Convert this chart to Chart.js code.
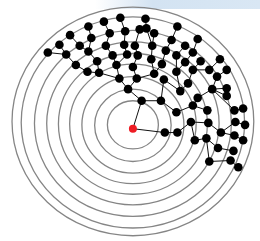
<!DOCTYPE html>
<html>
<head>
<meta charset="utf-8">
<script src="https://cdn.jsdelivr.net/npm/chart.js@4.4.1/dist/chart.umd.min.js"></script>
<style>
  html, body { margin: 0; padding: 0; background: #fff; }
  #wrap { position: relative; width: 260px; height: 241px; overflow: hidden; }
  #band { position: absolute; left: 95px; top: 0; width: 165px; height: 9px;
          background: linear-gradient(to right, rgba(205,222,240,0), #d3e3f2 35%, #d9e7f4); }
  canvas { position: absolute; left: 0; top: 0; }
</style>
</head>
<body>
<div id="wrap">
  <div id="band"></div>
  <canvas id="tree" width="260" height="241"></canvas>
</div>
<script>
// rings (radius, upward shift of the ring centre)
const ringRadius = [25, 37.5, 50, 62, 73, 84.5, 96.5, 109.5, 118.5];
const ringLift = [4, 3.5, 4, 5, 5, 5.5, 5.5, 6.5, 7.5];

// tree nodes, root first
const nodeX = [0, 9, 33, -5, 29, 46, 45, -14, 4, 32, 60, 22, -35, -17, 0, 49, 62, 64,
    -47, -37, -21, -6, 5, 19, 30, 45, 57, 67, 77, 78, 76,
    -59, -46, -28, -9, 2, 20, 34, 45, 54, 62, 82, 91, 88, 79,
    -69, -55, -43, -24, -8, 7, 14, 22, 40, 54, 62, 70, 79, 87, 97, 97, 105, 106, 105, 104, 101,
    -88, -76, -65, -46, -30, -13, 13, 46, 67, 90, 97, 114, 116, 114, 109];
const nodeY = [0, 29, -4, 41, 29, -4, 17, 52, 52, 51, 7, 57, 58, 66, 64, 39, 24, -12,
    59, 70, 76, 77, 76, 72, 67, 59, 47, 32, 19, 6, -10,
    66, 80, 86, 87, 86, 86, 81, 76, 69, 61, 41, -4, -20, -34,
    77, 86, 94, 99, 101, 103, 104, 99, 92, 86, 79, 70, 61, 54, 42, 34, 19, 7, -7, -23, -33,
    79, 87, 97, 106, 111, 115, 114, 106, 93, 72, 61, 21, 4, -12, -40];
const nodeParent = [-1, 0, 0, 1, 1, 2, 4, 3, 3, 4, 5, 8, 7, 7, 8, 9, 6, 10,
    12, 12, 13, 13, 14, 11, 11, 15, 15, 16, 16, 10, 17,
    18, 19, 20, 21, 22, 23, 24, 25, 25, 26, 27, 29, 30, 30,
    31, 32, 32, 33, 34, 35, 36, 36, 37, 38, 39, 40, 40, 41, 41, 41, 41, 42, 42, 43, 44,
    45, 45, 46, 47, 48, 49, 51, 53, 55, 57, 58, 61, 62, 63, 65];

const RING_ASPECT = 1.055;

const edgePoints = [];
for (let i = 1; i < nodeX.length; i++) {
    const p = nodeParent[i];
    edgePoints.push({x: nodeX[p], y: nodeY[p]});
    edgePoints.push({x: nodeX[i], y: nodeY[i]});
    edgePoints.push({x: null, y: null});
}
const nodePoints = nodeX.slice(1).map((x, i) => ({x: x, y: nodeY[i + 1]}));

// draw the rings through the scales, under the tree
const ringPlugin = {
    id: 'rings',
    beforeDatasetsDraw(chart) {
        const {ctx, scales: {x, y}} = chart;
        ctx.save();
        ctx.strokeStyle = '#858585';
        ctx.lineWidth = 1.3;
        ringRadius.forEach((r, i) => {
            const cx = x.getPixelForValue(0);
            const cy = y.getPixelForValue(ringLift[i]);
            const rx = x.getPixelForValue(r * RING_ASPECT) - cx;
            const ry = cy - y.getPixelForValue(ringLift[i] + r);
            ctx.beginPath();
            ctx.ellipse(cx, cy, rx, ry, 0, 0, Math.PI * 2);
            ctx.stroke();
        });
        ctx.restore();
    }
};

new Chart(document.getElementById('tree'), {
    type: 'scatter',
    data: {
        datasets: [
            {
                data: edgePoints,
                showLine: true,
                spanGaps: false,
                borderColor: '#111',
                borderWidth: 1,
                pointRadius: 0,
                order: 3
            },
            {
                data: nodePoints,
                pointRadius: 4.3,
                pointBackgroundColor: '#000',
                pointBorderWidth: 0,
                order: 2
            },
            {
                data: [{x: nodeX[0], y: nodeY[0]}],
                pointRadius: 4,
                pointBackgroundColor: '#ee1c24',
                pointBorderWidth: 0,
                order: 1
            }
        ]
    },
    options: {
        responsive: false,
        animation: false,
        devicePixelRatio: 1,
        layout: {padding: 0},
        clip: false,
        plugins: {legend: {display: false}, tooltip: {enabled: false}},
        scales: {
            x: {type: 'linear', display: false, min: -133, max: 127},
            y: {type: 'linear', display: false, min: -112, max: 129}
        }
    },
    plugins: [ringPlugin]
});
</script>
</body>
</html>
